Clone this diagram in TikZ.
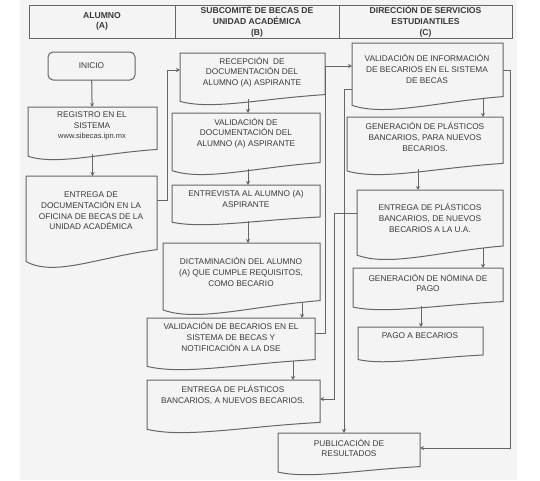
\documentclass[tikz,border=0pt]{standalone}
\usepackage{fontspec}
\setmainfont{Liberation Sans}
\usetikzlibrary{arrows.meta, calc}

\definecolor{bgcol}{HTML}{F4F4F4}
\definecolor{linecol}{HTML}{666666}
\definecolor{txtcol}{HTML}{3A3A3A}

\tikzset{
  box/.style 2 args={minimum width=#1pt, minimum height=#2pt, inner sep=0pt, outer sep=0pt},
  boxline/.style={draw=linecol, line width=1pt},
  doctext/.style={font=\fontsize{8.3}{10.6}\selectfont, align=center, text=txtcol, inner sep=0pt},
  hdr/.style={draw=linecol, line width=1pt, align=center, text=txtcol,
    font=\bfseries\fontsize{8.6}{10.6}\selectfont},
  arr/.style={draw=linecol, line width=1pt, -{Stealth[length=4pt,width=4pt]}},
  link/.style={draw=linecol, line width=1pt}
}

% document shape with wavy bottom, drawn round a named node
\newcommand{\docshape}[1]{%
  \draw[boxline] let \p1=(#1.south west), \p2=(#1.north east) in
    (\x1,\y2) -- (\x2,\y2) -- (\x2,{\y1+0.2*(\y2-\y1)})
    .. controls ({\x2-0.45*(\x2-\x1)},{\y1+0.12*(\y2-\y1)})
    and ({\x2-0.78*(\x2-\x1)},{\y1-0.1*(\y2-\y1)})
    .. (\x1,{\y1+0.07*(\y2-\y1)}) -- cycle;}

\begin{document}
\begin{tikzpicture}[x=1pt, y=-1pt]
  \useasboundingbox (0,0) rectangle (540,480);
  \fill[bgcol] (20,0) rectangle (517,480);

  % Header
  \node[hdr, box={146}{33}] (colA) at (102,21.5) {ALUMNO\\(A)};
  \node[hdr, box={164}{33}] (colB) at (257,21.5) {SUBCOMITÉ DE BECAS DE\\UNIDAD ACADÉMICA\\(B)};
  \node[hdr, box={173}{33}] (colC) at (425.5,21.5) {DIRECCIÓN DE SERVICIOS\\ESTUDIANTILES\\(C)};

  % Column A
  \node[box={87}{28}, draw=linecol, line width=1pt, rounded corners=5pt, doctext] (inicio) at (91.5,66) {INICIO};
  \node[box={129}{53}] (regis) at (92.5,133.5) {};
  \node[box={131}{92}] (entregaA) at (91.5,222) {};

  % Column B
  \node[box={145}{52}] (recep) at (252.5,79) {};
  \node[box={148}{62}] (validoc) at (246,144) {};
  \node[box={148}{40}] (entrev) at (246,205) {};
  \node[box={157}{72}] (dictam) at (241.5,279) {};
  \node[box={168}{52}] (valbec) at (231,344) {};
  \node[box={173}{53}] (entregaB) at (233.5,406.5) {};

  % Column C
  \node[box={151}{67}] (valinfo) at (427.5,76.5) {};
  \node[box={156}{58}] (genplas) at (425,146) {};
  \node[box={146}{70}] (entregaC) at (430,225) {};
  \node[box={150}{42}] (nomina) at (428,289) {};
  \node[box={125}{35}] (pago) at (420.5,344.5) {};
  \node[box={142}{42}] (publi) at (349,454) {};

  \foreach \b in {regis,entregaA,recep,validoc,entrev,dictam,valbec,entregaB,
                  valinfo,genplas,entregaC,nomina,pago,publi}
    \docshape{\b};

  % Texts
  \node[doctext] (t-regis) at (92,126) {REGISTRO EN EL\\SISTEMA\\{\fontsize{7.5}{10.6}\selectfont www.sibecas.ipn.mx}};
  \node[doctext] (t-entregaA) at (91,211) {ENTREGA DE\\DOCUMENTACIÓN EN LA\\OFICINA DE BECAS DE LA\\UNIDAD ACADÉMICA};
  \node[doctext] (t-recep) at (252,72) {RECEPCIÓN\ \ DE\\DOCUMENTACIÓN DEL\\ALUMNO (A) ASPIRANTE};
  \node[doctext] (t-validoc) at (246,133) {VALIDACIÓN DE\\DOCUMENTACIÓN DEL\\ALUMNO (A) ASPIRANTE};
  \node[doctext] (t-entrev) at (246,199) {ENTREVISTA AL ALUMNO (A)\\ASPIRANTE};
  \node[doctext] (t-dictam) at (241,272) {DICTAMINACIÓN DEL ALUMNO\\(A) QUE CUMPLE REQUISITOS,\\COMO BECARIO};
  \node[doctext] (t-valbec) at (231,337) {VALIDACIÓN DE BECARIOS EN EL\\SISTEMA DE BECAS Y\\NOTIFICACIÓN A LA DSE};
  \node[doctext] (t-entregaB) at (233,395) {ENTREGA DE PLÁSTICOS\\BANCARIOS, A NUEVOS BECARIOS.};
  \node[doctext] (t-valinfo) at (427,69) {VALIDACIÓN DE INFORMACIÓN\\DE BECARIOS EN EL SISTEMA\\DE BECAS};
  \node[doctext] (t-genplas) at (425,137) {GENERACIÓN DE PLÁSTICOS\\BANCARIOS, PARA NUEVOS\\BECARIOS.};
  \node[doctext] (t-entregaC) at (430,218) {ENTREGA DE PLÁSTICOS\\BANCARIOS, DE NUEVOS\\BECARIOS A LA U.A.};
  \node[doctext] (t-nomina) at (428,283) {GENERACIÓN DE NÓMINA DE\\PAGO};
  \node[doctext] (t-pago) at (420,336) {PAGO A BECARIOS};
  \node[doctext] (t-publi) at (349,448) {PUBLICACIÓN DE\\RESULTADOS};

  % Connectors
  \draw[arr] (inicio) -- (regis);
  \draw[arr] ([yshift=6pt]regis.south) coordinate (s) -- (s |- entregaA.north);
  \draw[arr] ([yshift=22pt]entregaA.east) -- ++(10,0) |- ([yshift=9pt]recep.west);
  \draw[arr] ([xshift=-4.5pt,yshift=6pt]recep.south) coordinate (s) -- (s |- validoc.north);
  \draw[arr] ([xshift=2pt,yshift=6pt]validoc.south) coordinate (s) -- (s |- entrev.north);
  \draw[arr] ([xshift=2pt,yshift=4pt]entrev.south) coordinate (s) -- (s |- dictam.north);
  \draw[arr] ([xshift=60.5pt,yshift=12pt]dictam.south) coordinate (s) -- (s |- valbec.north);
  \draw[arr] ([xshift=62pt,yshift=9pt]valbec.south) coordinate (s) -- (s |- entregaB.north);
  \draw[arr] ([yshift=13pt]recep.east) coordinate (s) -- (s -| valinfo.west);
  \draw[link] ([yshift=11pt]valbec.east) -| ([yshift=13pt]recep.east);
  \draw[arr] ([xshift=55.5pt,yshift=11pt]valinfo.south) coordinate (s) -- (s |- genplas.north);
  \draw[arr] ([xshift=-7pt,yshift=6pt]genplas.south) coordinate (s) -- (s |- entregaC.north);
  \draw[arr] ([xshift=53pt,yshift=12pt]entregaC.south) coordinate (s) -- (s |- nomina.north);
  \draw[arr] ([xshift=-7pt,yshift=4pt]nomina.south) coordinate (s) -- (s |- pago.north);
  \draw[arr] ([yshift=12pt]entregaC.west) -- ++(-23,0) |- ([yshift=7.5pt]entregaB.east);
  \draw[arr] ([yshift=-12.5pt]valinfo.west) -| ([xshift=-5pt]publi.north);
  \draw[arr] ([yshift=6.5pt]valinfo.east) -- ++(7,0) |- ([yshift=6pt]publi.east);
\end{tikzpicture}
\end{document}
